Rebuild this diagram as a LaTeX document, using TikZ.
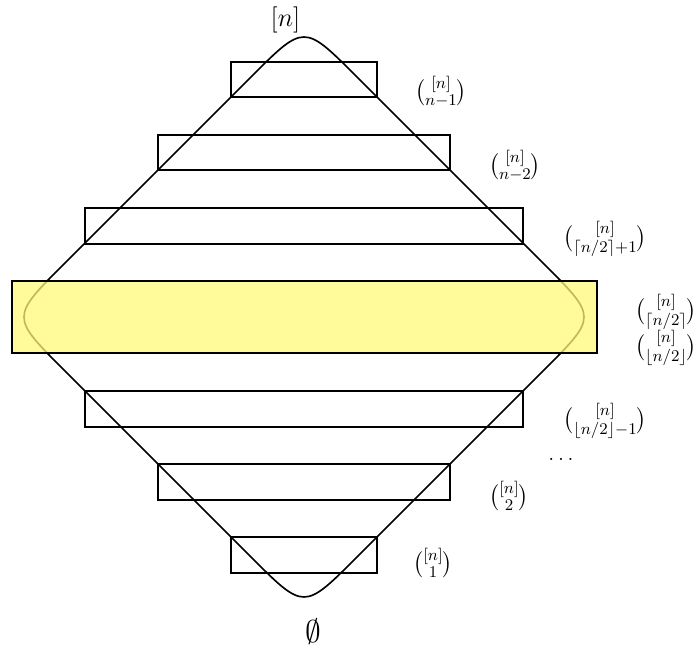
\documentclass[tikz,border=0pt]{standalone}
\usepackage{amsmath}
\usetikzlibrary{calc}
\definecolor{midyellow}{RGB}{255,248,120}
\begin{document}
\begin{tikzpicture}[x=0.55pt,y=-0.55pt,
  diam/.style={line width=0.9pt},
  levelbox/.style={draw, line width=0.8pt},
  midbox/.style={draw, line width=0.8pt, fill=midyellow, fill opacity=0.75, draw opacity=1},
  lbl/.style={inner sep=0pt, font=\fontsize{13}{15}\selectfont}]
\useasboundingbox (0,0) rectangle (698,651);
\coordinate (T) at (304,24);
\coordinate (R) at (597,317);
\coordinate (B) at (304,610);
\coordinate (L) at (11,317);
\def\off{52}
\coordinate (TL) at ($(T)+(-\off,\off)$);
\coordinate (TR) at ($(T)+(\off,\off)$);
\coordinate (RT) at ($(R)+(-\off,-\off)$);
\coordinate (RB) at ($(R)+(-\off,\off)$);
\coordinate (BR) at ($(B)+(\off,-\off)$);
\coordinate (BL) at ($(B)+(-\off,-\off)$);
\coordinate (LB) at ($(L)+(\off,\off)$);
\coordinate (LT) at ($(L)+(\off,-\off)$);
\draw[diam] (TL) .. controls (T) and (T) .. (TR) -- (RT)
  .. controls (R) and (R) .. (RB) -- (BR)
  .. controls (B) and (B) .. (BL) -- (LB)
  .. controls (L) and (L) .. (LT) -- cycle;
% level boxes
\draw[levelbox] (231,62) rectangle (377,97);
\draw[levelbox] (158,135) rectangle (450,170);
\draw[levelbox] (85,208) rectangle (523,244);
\draw[levelbox] (85,391) rectangle (523,427);
\draw[levelbox] (158,464) rectangle (450,500);
\draw[levelbox] (231,537) rectangle (377,573);
\draw[midbox] (12,281) rectangle (597,353);
% labels
\node[inner sep=0pt, font=\fontsize{15.5}{18}\selectfont] (top) at (285.5,20) {$[n]$};
\node[inner sep=0pt, font=\fontsize{18}{20}\selectfont] (bot) at (313,632) {$\emptyset$};
\node[lbl] (l1) at (441,92) {$\binom{[n]}{n-1}$};
\node[lbl] (l2) at (515,166) {$\binom{[n]}{n-2}$};
\node[lbl] (l3) at (605,239) {$\binom{[n]}{\lceil n/2\rceil+1}$};
\node[lbl] (l4) at (666,312) {$\binom{[n]}{\lceil n/2\rceil}$};
\node[lbl] (l5) at (666,348) {$\binom{[n]}{\lfloor n/2\rfloor}$};
\node[lbl] (l6) at (605,421) {$\binom{[n]}{\lfloor n/2\rfloor-1}$};
\node[lbl] (dots) at (561,459) {$\ldots$};
\node[lbl] (l7) at (509,496) {$\binom{[n]}{2}$};
\node[lbl] (l8) at (433,563) {$\binom{[n]}{1}$};
\end{tikzpicture}
\end{document}
